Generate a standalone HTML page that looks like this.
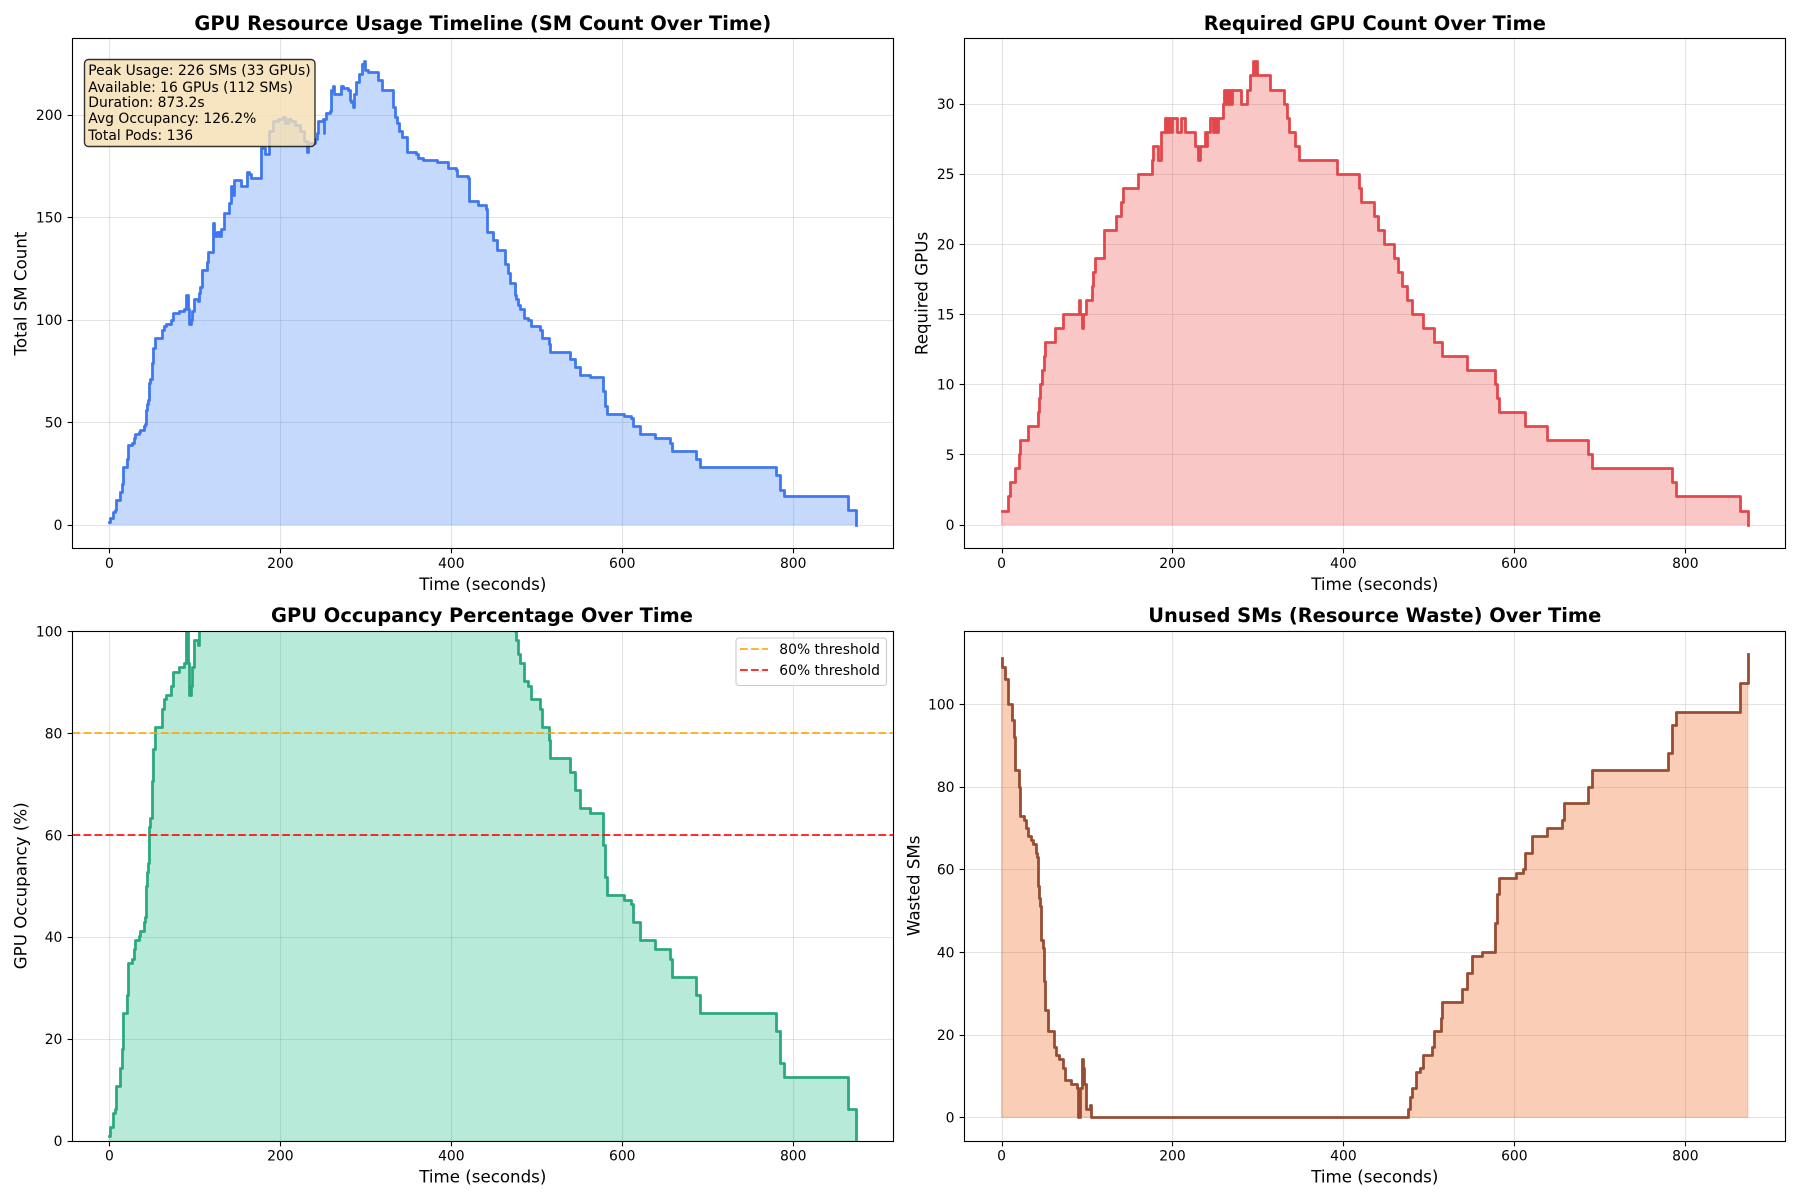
<!DOCTYPE html>
<html lang="en">
<head>
<meta charset="utf-8">
<title>GPU Resource Usage Dashboard</title>
<style>
  html, body { margin: 0; padding: 0; background: #fff; }
  svg { display: block; }
  text { font-family: "DejaVu Sans", "Liberation Sans", sans-serif; fill: #000; }
  .title { font-size: 19.44px; font-weight: bold; text-anchor: middle; }
  .axis-label { font-size: 16.67px; text-anchor: middle; }
  .note, .legend-text { font-size: 13.89px; }
</style>
</head>
<body>
<svg id="figure" xmlns="http://www.w3.org/2000/svg" width="1800" height="1200" viewBox="0 0 1800 1200">
  <rect x="0" y="0" width="1800" height="1200" fill="#ffffff"/>
  <defs>
    <clipPath id="clip-sm"><rect x="72.5" y="38.5" width="821" height="510"/></clipPath>
    <clipPath id="clip-gpu"><rect x="964.5" y="38.5" width="821" height="510"/></clipPath>
    <clipPath id="clip-occ"><rect x="72.5" y="631.5" width="821" height="510"/></clipPath>
    <clipPath id="clip-waste"><rect x="964.5" y="631.5" width="821" height="510"/></clipPath>
  </defs>

  <g id="panel-sm"></g>
  <g id="panel-gpu"></g>
  <g id="panel-occ"></g>
  <g id="panel-waste"></g>

  <text class="title" x="482.8" y="30">GPU Resource Usage Timeline (SM Count Over Time)</text>
  <text class="title" x="1374.8" y="30">Required GPU Count Over Time</text>
  <text class="title" x="482" y="622">GPU Occupancy Percentage Over Time</text>
  <text class="title" x="1374.8" y="622">Unused SMs (Resource Waste) Over Time</text>

  <text class="axis-label" x="482.8" y="590">Time (seconds)</text>
  <text class="axis-label" x="1374.8" y="590">Time (seconds)</text>
  <text class="axis-label" x="482.8" y="1182.3">Time (seconds)</text>
  <text class="axis-label" x="1374.8" y="1182.3">Time (seconds)</text>

  <text class="axis-label" transform="translate(26.5 293.5) rotate(-90)">Total SM Count</text>
  <text class="axis-label" transform="translate(927.5 293.5) rotate(-90)">Required GPUs</text>
  <text class="axis-label" transform="translate(26.5 885.8) rotate(-90)">GPU Occupancy (%)</text>
  <text class="axis-label" transform="translate(919.5 885.8) rotate(-90)">Wasted SMs</text>

  <g id="stats-box">
    <rect x="84.5" y="59.5" width="230.5" height="87" rx="4" ry="4" fill="#f5deb3" fill-opacity="0.8" stroke="#000000" stroke-opacity="0.8" stroke-width="1.39"/>
    <text class="note" x="88.3" y="75">Peak Usage: 226 SMs (33 GPUs)</text>
    <text class="note" x="88.3" y="92">Available: 16 GPUs (112 SMs)</text>
    <text class="note" x="88.3" y="107">Duration: 873.2s</text>
    <text class="note" x="88.3" y="123">Avg Occupancy: 126.2%</text>
    <text class="note" x="88.3" y="140">Total Pods: 136</text>
  </g>

  <g id="legend">
    <rect x="736" y="638" width="150.5" height="47.5" rx="3" ry="3" fill="#ffffff" fill-opacity="0.8" stroke="#cccccc" stroke-width="1.11"/>
    <line x1="740" y1="649" x2="768" y2="649" stroke="#ffa500" stroke-opacity="0.8" stroke-width="2.08" stroke-dasharray="7.71 3.33"/>
    <text class="legend-text" x="779.3" y="653.8">80% threshold</text>
    <line x1="740" y1="670" x2="768" y2="670" stroke="#ff0000" stroke-opacity="0.8" stroke-width="2.08" stroke-dasharray="7.71 3.33"/>
    <text class="legend-text" x="779.3" y="674.8">60% threshold</text>
  </g>
</svg>

<script>
/* ---------- chart data ---------- */
const xTickLabels = [0, 200, 400, 600, 800];
const smYTicks = [0, 50, 100, 150, 200];
const gpuYTicks = [0, 5, 10, 15, 20, 25, 30];
const occYTicks = [0, 20, 40, 60, 80, 100];
const wasteYTicks = [0, 20, 40, 60, 80, 100];
const thresholdValues = [80, 60];

const smTimes = [
  0,0.8,4.3,7,7.8,12,15,15.6,20,21.8,
  26.5,28.5,30.4,34.3,36.3,40,42,43,44,45.6,
  46,48,50,50.6,53.8,61.6,63.6,66.7,72,74.5,
  81,87.8,90,91.7,93.6,95.5,97,98.5,103.7,104.5,
  106.5,108,113.6,115.5,120.6,122,124,126,128,131,
  134.3,139.7,142,143.5,146,153.4,160.4,163,166,176.8,
  181.8,187,190.8,197.4,203.3,206,209,213,217,222.8,
  227.5,230.6,232.6,240.4,242.3,244.6,250,251,251.6,253,
  258,259.8,261.5,263,268,270.4,273,279,281.3,283,
  285.2,286,288.3,292.2,295,297.7,298.8,302.8,314.5,319,
  332,334,336,339,342.5,347.6,358.1,361,366.3,382.7,
  396.3,406,407,419.8,421,431.4,440.4,442,449,452.9,
  462.6,466.6,468.5,474.4,476,478,480,485.3,489.6,493.5,
  503.3,506.4,513.8,515.8,539,545,550.9,561.8,577,579.3,
  581.7,601.6,610.5,613,620.9,638.6,656,658,686.6,690.5,
  780,784,789.5,864.4,873.2
];
const smValues = [
  1,3,6,7,12,16,20,28,32,39,
  40,42,44,45,46,48,49,56,59,61,
  69,71,79,86,91,95,97,98,100,103,
  104,105,112,105,98,100,104,110,109,113,
  116,124,128,133,147,143,141,143,141,144,
  152,157,165,161,168,165,172,171,169,184,
  181,192,197,198,199,196,198,197,195,192,
  187,182,186,188,191,197,198,191,198,201,
  202,212,214,210,210,214,213,212,207,206,
  204,210,216,220,225,226,222,221,217,212,
  204,199,196,192,189,182,181,179,178,177,
  174,173,170,169,158,156,154,143,139,134,
  127,123,118,112,110,107,105,101,100,97,
  95,91,88,84,81,77,73,72,65,58,
  54,53,52,48,44,42,40,36,32,28,
  24,17,14,7,0
];

const gpuTimes = [
  0,7.5,10.2,15.6,20.7,21.8,30.5,42.1,43.3,45.2,
  46.8,49.2,50.4,62.4,71.8,90.5,91.7,94,95.6,98.7,
  105.7,106.5,109.6,119.8,133.8,139.3,141.6,160,175.9,176.7,
  182.5,186.4,190.8,192.3,193.5,195.4,196.2,198.2,199.3,204.8,
  210.3,214.2,225.9,229.8,231.7,238,239.3,240.5,243.8,247.7,
  248.9,251.2,252.8,258.6,260.2,261.7,262.5,264.5,266.4,268.4,
  269.2,279.7,287.5,290.2,294.1,295.7,296.8,298.4,313.6,330.8,
  333.5,336.6,343.6,348.3,393,418.5,420.4,436,441,447.5,
  459.6,464.3,469,474.8,480.7,493.5,506.4,515.8,545,577,
  579.3,581.7,613,638.6,686.6,690.5,784,789.5,864.4,873.2
];
const gpuValues = [
  1,2,3,4,5,6,7,8,9,10,
  11,12,13,14,15,16,15,14,15,16,
  17,18,19,21,22,23,24,25,26,27,
  26,28,29,28,29,28,29,28,29,28,
  29,28,27,26,27,28,27,28,29,28,
  29,28,29,30,31,30,31,30,31,30,
  31,30,31,32,33,32,33,32,31,30,
  29,28,27,26,25,24,23,22,21,20,
  19,18,17,16,15,14,13,12,11,10,
  9,8,7,6,5,4,3,2,1,0
];

const occValues = [
  0.9,2.7,5.4,6.2,10.7,14.3,17.9,25,28.6,34.8,
  35.7,37.5,39.3,40.2,41.1,42.9,43.8,50,52.7,54.5,
  61.6,63.4,70.5,76.8,81.2,84.8,86.6,87.5,89.3,92,
  92.9,93.8,100,93.8,87.5,89.3,92.9,98.2,97.3,100.9,
  103.6,110.7,114.3,118.8,131.2,127.7,125.9,127.7,125.9,128.6,
  135.7,140.2,147.3,143.8,150,147.3,153.6,152.7,150.9,164.3,
  161.6,171.4,175.9,176.8,177.7,175,176.8,175.9,174.1,171.4,
  167,162.5,166.1,167.9,170.5,175.9,176.8,170.5,176.8,179.5,
  180.4,189.3,191.1,187.5,187.5,191.1,190.2,189.3,184.8,183.9,
  182.1,187.5,192.9,196.4,200.9,201.8,198.2,197.3,193.8,189.3,
  182.1,177.7,175,171.4,168.8,162.5,161.6,159.8,158.9,158,
  155.4,154.5,151.8,150.9,141.1,139.3,137.5,127.7,124.1,119.6,
  113.4,109.8,105.4,100,98.2,95.5,93.8,90.2,89.3,86.6,
  84.8,81.2,78.6,75,72.3,68.8,65.2,64.3,58,51.8,
  48.2,47.3,46.4,42.9,39.3,37.5,35.7,32.1,28.6,25,
  21.4,15.2,12.5,6.2,0
];

const wasteValues = [
  111,109,106,105,100,96,92,84,80,73,
  72,70,68,67,66,64,63,56,53,51,
  43,41,33,26,21,17,15,14,12,9,
  8,7,0,7,14,12,8,2,3,0,
  0,0,0,0,0,0,0,0,0,0,
  0,0,0,0,0,0,0,0,0,0,
  0,0,0,0,0,0,0,0,0,0,
  0,0,0,0,0,0,0,0,0,0,
  0,0,0,0,0,0,0,0,0,0,
  0,0,0,0,0,0,0,0,0,0,
  0,0,0,0,0,0,0,0,0,0,
  0,0,0,0,0,0,0,0,0,0,
  0,0,0,0,2,5,7,11,12,15,
  17,21,24,28,31,35,39,40,47,54,
  58,59,60,64,68,70,72,76,80,84,
  88,95,98,105,112
];

/* ---------- drawing ---------- */
const SVG_NS = 'http://www.w3.org/2000/svg';
const X_MIN = -43.66, X_MAX = 916.86;
const AX_W = 821, AX_H = 509.4;

function snapInt(v) { return Math.floor(v + 0.5); }
function snapHalf(v) { return Math.floor(v + 0.5) + 0.5; }

function drawPanel(p) {
  const root = document.getElementById(p.id);
  const xScale = t => p.left + (t - X_MIN) / (X_MAX - X_MIN) * AX_W;
  const yScale = v => p.top + AX_H - (v - p.yMin) / (p.yMax - p.yMin) * AX_H;
  const right = p.left + AX_W, bottom = p.top + AX_H;
  const L = snapHalf(p.left), R = snapHalf(right), T = snapHalf(p.top), B = snapHalf(bottom);

  // vertical grid lines
  xTickLabels.forEach(tick => {
    const x = snapHalf(xScale(tick));
    const g = document.createElementNS(SVG_NS, 'line');
    
    
    g.setAttribute('x1', x); g.setAttribute('x2', x);
    g.setAttribute('y1', T); g.setAttribute('y2', B);
    g.setAttribute('stroke', '#b0b0b0'); g.setAttribute('stroke-opacity', '0.35');
    g.setAttribute('stroke-width', '1.11');
    root.appendChild(g);
  });
  // horizontal grid lines
  p.yTicks.forEach(tick => {
    const y = snapHalf(yScale(tick));
    const g = document.createElementNS(SVG_NS, 'line');
    
    
    g.setAttribute('x1', L); g.setAttribute('x2', R);
    g.setAttribute('y1', y); g.setAttribute('y2', y);
    g.setAttribute('stroke', '#b0b0b0'); g.setAttribute('stroke-opacity', '0.35');
    g.setAttribute('stroke-width', '1.11');
    root.appendChild(g);
  });

  // step path through the data
  let line = '';
  p.times.forEach((t, i) => {
    const x = snapHalf(xScale(t));
    const y = snapHalf(yScale(p.values[i]));
    if (i === 0) {
      line += 'M' + x + ' ' + y;
    } else {
      const prev = snapHalf(yScale(p.values[i - 1]));
      line += 'L' + x + ' ' + prev + 'L' + x + ' ' + y;
    }
  });
  let area = 'M' + xScale(p.times[0]) + ' ' + yScale(0);
  p.times.forEach((t, i) => {
    const x = xScale(t);
    const y = yScale(p.values[i]);
    if (i > 0) area += 'L' + x + ' ' + yScale(p.values[i - 1]);
    area += 'L' + x + ' ' + y;
  });
  area += 'L' + xScale(p.times[p.times.length - 1]) + ' ' + yScale(0) + 'Z';

  const fill = document.createElementNS(SVG_NS, 'path');
  
  
  fill.setAttribute('d', area);
  fill.setAttribute('fill', p.fillColor); fill.setAttribute('fill-opacity', '0.3');
  fill.setAttribute('stroke', p.fillColor); fill.setAttribute('stroke-opacity', '0.25');
  fill.setAttribute('stroke-width', '1.1');
  fill.setAttribute('clip-path', 'url(#' + p.clip + ')');
  root.appendChild(fill);

  const stroke = document.createElementNS(SVG_NS, 'path');
  
  
  stroke.setAttribute('d', line);
  stroke.setAttribute('fill', 'none');
  stroke.setAttribute('stroke', p.lineColor);
  stroke.setAttribute('stroke-width', '2.78');
  stroke.setAttribute('stroke-linejoin', 'round');
  stroke.setAttribute('stroke-linecap', 'square');
  stroke.setAttribute('clip-path', 'url(#' + p.clip + ')');
  root.appendChild(stroke);

  // threshold lines
  (p.thresholds || []).forEach((value, i) => {
    const y = snapInt(yScale(value));
    const th = document.createElementNS(SVG_NS, 'line');
    
    
    th.setAttribute('x1', L); th.setAttribute('x2', R);
    th.setAttribute('y1', y); th.setAttribute('y2', y);
    th.setAttribute('stroke', i === 0 ? '#ffa500' : '#ff0000');
    th.setAttribute('stroke-opacity', '0.8');
    th.setAttribute('stroke-width', '2.08');
    th.setAttribute('stroke-dasharray', '7.71 3.33');
    root.appendChild(th);
  });

  // frame
  const frame = document.createElementNS(SVG_NS, 'rect');
  
  
  frame.setAttribute('x', L); frame.setAttribute('y', T);
  frame.setAttribute('width', R - L); frame.setAttribute('height', B - T);
  frame.setAttribute('fill', 'none');
  frame.setAttribute('stroke', '#000000'); frame.setAttribute('stroke-width', '1.11');
  root.appendChild(frame);

  // x ticks and labels
  xTickLabels.forEach(tick => {
    const x = snapHalf(xScale(tick));
    const m = document.createElementNS(SVG_NS, 'line');
    
    
    m.setAttribute('x1', x); m.setAttribute('x2', x);
    m.setAttribute('y1', B); m.setAttribute('y2', B + 4.86);
    m.setAttribute('stroke', '#000000'); m.setAttribute('stroke-width', '1.11');
    root.appendChild(m);
    const lab = document.createElementNS(SVG_NS, 'text');
    
    
    lab.setAttribute('x', xScale(tick));
    lab.setAttribute('y', p.xLabelY);
    lab.setAttribute('text-anchor', 'middle');
    lab.setAttribute('font-size', '13.89');
    lab.textContent = String(tick);
    root.appendChild(lab);
  });
  // y ticks and labels
  p.yTicks.forEach(tick => {
    const y = snapHalf(yScale(tick));
    const m = document.createElementNS(SVG_NS, 'line');
    
    
    m.setAttribute('x1', L - 4.86); m.setAttribute('x2', L);
    m.setAttribute('y1', y); m.setAttribute('y2', y);
    m.setAttribute('stroke', '#000000'); m.setAttribute('stroke-width', '1.11');
    root.appendChild(m);
    const lab = document.createElementNS(SVG_NS, 'text');
    
    
    lab.setAttribute('x', p.left - 9.7);
    lab.setAttribute('y', yScale(tick) + 5.4);
    lab.setAttribute('text-anchor', 'end');
    lab.setAttribute('font-size', '13.89');
    lab.textContent = String(tick);
    root.appendChild(lab);
  });
}

drawPanel({ id: 'panel-sm', key: 'sm-usage', clip: 'clip-sm', left: 72.1, top: 38.3, xLabelY: 568,
  yMin: -11.3, yMax: 237.3, yTicks: smYTicks, times: smTimes, values: smValues,
  lineColor: '#3f78ee', fillColor: '#3b82f6' });
drawPanel({ id: 'panel-gpu', key: 'gpu-count', clip: 'clip-gpu', left: 964.2, top: 38.3, xLabelY: 568,
  yMin: -1.65, yMax: 34.65, yTicks: gpuYTicks, times: gpuTimes, values: gpuValues,
  lineColor: '#e2474b', fillColor: '#ef4444' });
drawPanel({ id: 'panel-occ', key: 'occupancy', clip: 'clip-occ', left: 72.1, top: 631.1, xLabelY: 1160.5,
  yMin: 0, yMax: 100, yTicks: occYTicks, times: smTimes, values: occValues,
  lineColor: '#2ca87f', fillColor: '#10b981', thresholds: thresholdValues });
drawPanel({ id: 'panel-waste', key: 'wasted-sms', clip: 'clip-waste', left: 964.2, top: 631.1, xLabelY: 1160.5,
  yMin: -5.6, yMax: 117.6, yTicks: wasteYTicks, times: smTimes, values: wasteValues,
  lineColor: '#964d33', fillColor: '#ea580c' });
</script>
</body>
</html>
